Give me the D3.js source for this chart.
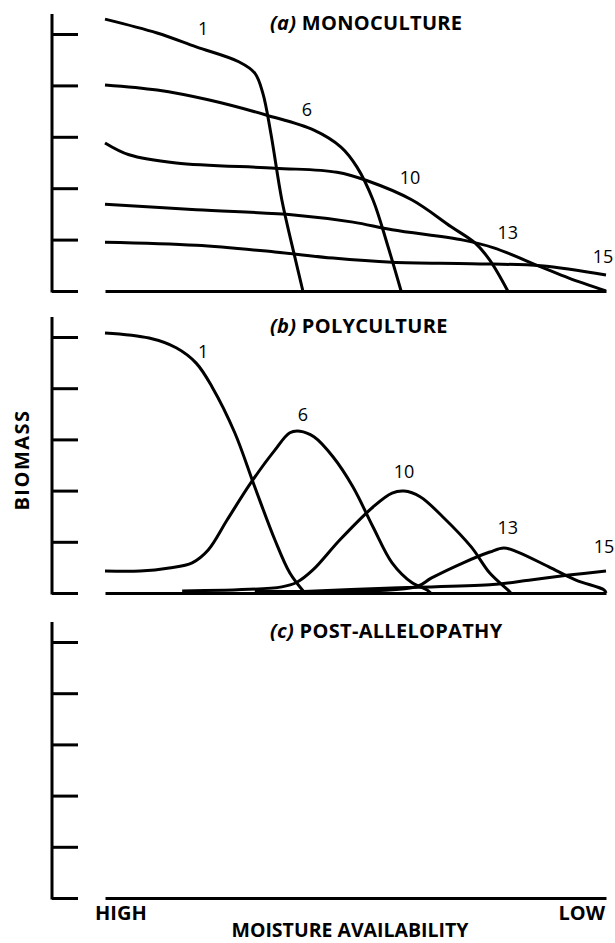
<!DOCTYPE html>
<html>
<head>
<meta charset="utf-8">
<script src="https://cdn.jsdelivr.net/npm/d3@7"></script>
<style>
  body { margin: 0; background: #fff; }
  text { font-family: "Open Sans", sans-serif; fill: #000; }
  .title { font-size: 20px; font-weight: 700; letter-spacing: 0.3px; }
  .axisLabel { font-size: 20px; font-weight: 700; }
  .curveLabel { font-size: 18px; }
</style>
</head>
<body>
<div class="chart"></div>
<script>
// moisture axis runs 0 (high) -> 100 (low), biomass 0 -> 5 (tick units)

// (a) monoculture curves, one per species
var monoNames = ["1", "6", "10", "13", "15"];
var monoX = [
  [0, 10.4, 18.2, 26.7, 29.9, 31.5, 33.1, 35.3, 37.7, 39.5],
  [0, 10.4, 20.6, 32.3, 41.7, 47.1, 50.3, 53.5, 56.5, 59.1],
  [0, 4.8, 14.2, 33.9, 46.3, 52.5, 61.3, 69.1, 73.9, 76.8, 80.4],
  [0, 18.2, 37.7, 49.5, 57.3, 71.5, 77.6, 87.0, 92.6, 100],
  [0, 18.2, 33.9, 45.5, 57.3, 73.1, 87.0, 100]
];
var monoY = [
  [5.29, 5.02, 4.75, 4.46, 4.24, 3.85, 3.07, 1.77, 0.74, 0],
  [4.01, 3.91, 3.72, 3.42, 3.13, 2.80, 2.41, 1.77, 0.86, 0],
  [2.88, 2.65, 2.49, 2.39, 2.31, 2.14, 1.77, 1.25, 0.93, 0.60, 0],
  [1.69, 1.58, 1.48, 1.34, 1.19, 0.99, 0.84, 0.47, 0.25, 0],
  [0.95, 0.89, 0.76, 0.64, 0.56, 0.53, 0.49, 0.31]
];
var monoLabelX = [19.6, 40.3, 60.9, 80.4, 99.4];
var monoLabelY = [5.10, 3.52, 2.20, 1.13, 0.66];

// (b) polyculture curves
var polyNames = ["1", "6", "10", "13", "15"];
var polyX = [
  [0, 8.8, 14.2, 18.2, 21.4, 25.9, 29.9, 33.9, 36.9, 39.9],
  [0, 7.0, 12.8, 17.4, 20.6, 24.4, 29.1, 33.9, 36.9, 38.9, 41.7, 45.5, 49.5, 53.5, 57.3, 61.3, 64.3, 65.0],
  [15.4, 35.3, 38.3, 41.5, 46.9, 53.5, 57.3, 59.7, 62.9, 67.5, 73.1, 76.8, 80.4, 81.0],
  [29.9, 62.1, 65.1, 71.5, 76.8, 79.6, 82.4, 88.6, 94.0, 99.6, 100],
  [37.3, 57.3, 76.8, 84.6, 92.6, 100]
];
var polyY = [
  [5.08, 4.98, 4.79, 4.49, 4.02, 3.13, 2.07, 1.04, 0.39, 0],
  [0.43, 0.43, 0.49, 0.59, 0.84, 1.43, 2.15, 2.79, 3.13, 3.16, 3.05, 2.66, 2.07, 1.29, 0.59, 0.20, 0.06, 0],
  [0.04, 0.12, 0.21, 0.45, 1.04, 1.68, 1.95, 1.99, 1.88, 1.48, 0.90, 0.39, 0.06, 0],
  [0.04, 0.12, 0.29, 0.59, 0.80, 0.88, 0.80, 0.51, 0.25, 0.06, 0],
  [0.02, 0.10, 0.16, 0.25, 0.35, 0.43]
];
var polyLabelX = [19.6, 39.5, 59.7, 80.4, 99.6];
var polyLabelY = [4.71, 3.48, 2.36, 1.27, 0.90];

// (c) post-allelopathy has no curves
var panelTitles = [["(a)", " MONOCULTURE"], ["(b)", " POLYCULTURE"], ["(c)", " POST-ALLELOPATHY"]];
var biomassTicks = [0, 1, 2, 3, 4, 5];
var xEndLabels = ["HIGH", "LOW"];

var svgWidth = 615;
var svgHeight = 943;

// pixel position of each panel's zero line and of its top tick
var panelBase = [291, 593, 898];
var panelTop = [34, 337, 642];

var svg = d3
  .select(".chart")
  .append("svg")
  .attr("width", svgWidth)
  .attr("height", svgHeight);

var xScale = d3.scaleLinear().domain([0, 100]).range([105, 606]);
var yAxisX = 52;

var line = d3
  .line()
  .curve(d3.curveCatmullRom.alpha(0.5))
  .x((d) => xScale(d[0]))
  .y((d) => d[1]);

function zipCurve(xs, ys, yScale) {
  return xs.map((x, i) => [x, yScale(ys[i])]);
}

var panels = [
  { names: monoNames, xs: monoX, ys: monoY, lx: monoLabelX, ly: monoLabelY },
  { names: polyNames, xs: polyX, ys: polyY, lx: polyLabelX, ly: polyLabelY },
  { names: [], xs: [], ys: [], lx: [], ly: [] }
];

panels.forEach((p, k) => {
  let yScale = d3.scaleLinear().domain([0, 5]).range([panelBase[k], panelTop[k]]);
  let g = svg.append("g");

  // biomass axis, ticks pointing inward
  let leftAxis = d3
    .axisLeft(yScale)
    .tickValues(biomassTicks)
    .tickSizeInner(-26)
    .tickSizeOuter(0)
    .tickFormat("");
  let yAxis = g.append("g").attr("transform", `translate(${yAxisX},0)`).call(leftAxis);
  yAxis.select(".domain").remove();
  yAxis.selectAll(".tick line").attr("stroke", "#000").attr("stroke-width", 3);
  g.append("line")
    .attr("x1", yAxisX)
    .attr("x2", yAxisX)
    .attr("y1", yScale(0) + 1.5)
    .attr("y2", yScale(5.39))
    .attr("stroke", "#000")
    .attr("stroke-width", 3);

  // moisture baseline
  let bottomAxis = d3.axisBottom(xScale).ticks(0).tickSizeOuter(0);
  let xAxis = g.append("g").attr("transform", `translate(0,${yScale(0)})`).call(bottomAxis);
  xAxis.select(".domain").attr("stroke", "#000").attr("stroke-width", 3);

  // curves
  p.xs.forEach((xs, i) => {
    g.append("path")
      .datum(zipCurve(xs, p.ys[i], yScale))
      .attr("fill", "none")
      .attr("stroke", "#000")
      .attr("stroke-width", 3)
      .attr("stroke-linejoin", "round")
      .attr("stroke-linecap", "butt")
      .attr("d", line);
  });

  g.selectAll(".curveLabel")
    .data(p.names)
    .enter()
    .append("text")
    .attr("class", "curveLabel")
    .attr("x", (d, i) => xScale(p.lx[i]))
    .attr("y", (d, i) => yScale(p.ly[i]))
    .attr("dy", "0.35em")
    .style("text-anchor", "middle")
    .text((d) => d);

  // panel title
  let title = g.append("text")
    .attr("class", "title")
    .attr("x", 270)
    .attr("y", yScale(5) - 4);
  title.append("tspan").style("font-style", "italic").text(panelTitles[k][0]);
  title.append("tspan").text(panelTitles[k][1]);
});

// axis titles
svg.append("text")
  .attr("class", "axisLabel")
  .attr("transform", "translate(29,460) rotate(-90)")
  .style("text-anchor", "middle")
  .style("letter-spacing", "1.5px")
  .text("BIOMASS");

svg.append("text")
  .attr("class", "axisLabel")
  .attr("x", 95)
  .attr("y", 920)
  .text(xEndLabels[0]);

svg.append("text")
  .attr("class", "axisLabel")
  .attr("x", 605)
  .attr("y", 920)
  .style("text-anchor", "end")
  .text(xEndLabels[1]);

svg.append("text")
  .attr("class", "axisLabel")
  .attr("x", 350)
  .attr("y", 937)
  .style("font-size", "19.5px")
  .style("text-anchor", "middle")
  .text("MOISTURE AVAILABILITY");
</script>
</body>
</html>
